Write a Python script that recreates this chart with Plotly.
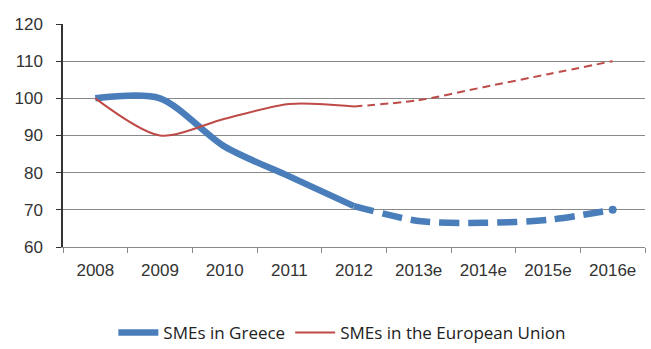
import plotly.graph_objects as go

categories = ["2008", "2009", "2010", "2011", "2012", "2013e", "2014e", "2015e", "2016e"]
greece = [100, 100, 87, 79, 71, 67, 66.5, 67.3, 70]
eu = [100, 90, 94.5, 98.5, 97.8, 99.5, 103, 106.5, 110]
split = 4  # last actual year (2012); after that estimates (dashed)

blue = "#4A7EBB"
red = "#BE4B48"

fig = go.Figure()
fig.add_trace(go.Scatter(x=categories[:split + 1], y=greece[:split + 1], mode="lines",
                         line=dict(color=blue, width=6.5, shape="spline", smoothing=0.8),
                         name="SMEs in Greece"))
fig.add_trace(go.Scatter(x=categories[split:], y=greece[split:], mode="lines",
                         line=dict(color=blue, width=6.5, shape="spline", smoothing=0.8, dash="20px,9px"),
                         showlegend=False))
fig.add_trace(go.Scatter(x=categories[-1:], y=greece[-1:], mode="markers",
                         marker=dict(color=blue, size=8), showlegend=False))
fig.add_trace(go.Scatter(x=categories[:split + 1], y=eu[:split + 1], mode="lines",
                         line=dict(color=red, width=2, shape="spline", smoothing=0.8),
                         name="SMEs in the European Union"))
fig.add_trace(go.Scatter(x=categories[split:], y=eu[split:], mode="lines",
                         line=dict(color=red, width=2, shape="spline", smoothing=0.8, dash="8px,5px"),
                         showlegend=False))

fig.update_layout(
    width=651, height=349,
    margin=dict(l=63, r=6, t=24, b=102, autoexpand=False),
    paper_bgcolor="white", plot_bgcolor="white",
    font=dict(family="Liberation Sans, Arial, sans-serif", color="#333333", size=16),
    legend=dict(orientation="h", x=0.48, xanchor="center", y=-0.385, yanchor="middle",
                font=dict(family="Open Sans, sans-serif", size=17, color="#222222"),
                itemwidth=40, tracegroupgap=0),
    showlegend=True,
)
fig.update_xaxes(type="category", range=[-0.5, len(categories) - 0.5],
                 showline=True, linecolor="#888888", linewidth=1,
                 ticks="outside", tickson="boundaries", ticklen=5, tickcolor="#888888",
                 showgrid=False, tickfont=dict(size=17), ticklabelstandoff=8, fixedrange=True)
fig.update_yaxes(range=[60, 120], dtick=10, showline=True, linecolor="#333333", linewidth=1.5,
                 ticks="outside", ticklen=5, tickcolor="#333333",
                 showgrid=True, gridcolor="#888888", gridwidth=1, zeroline=False,
                 tickfont=dict(size=17), ticklabelstandoff=10)

fig.write_html("out.html")
